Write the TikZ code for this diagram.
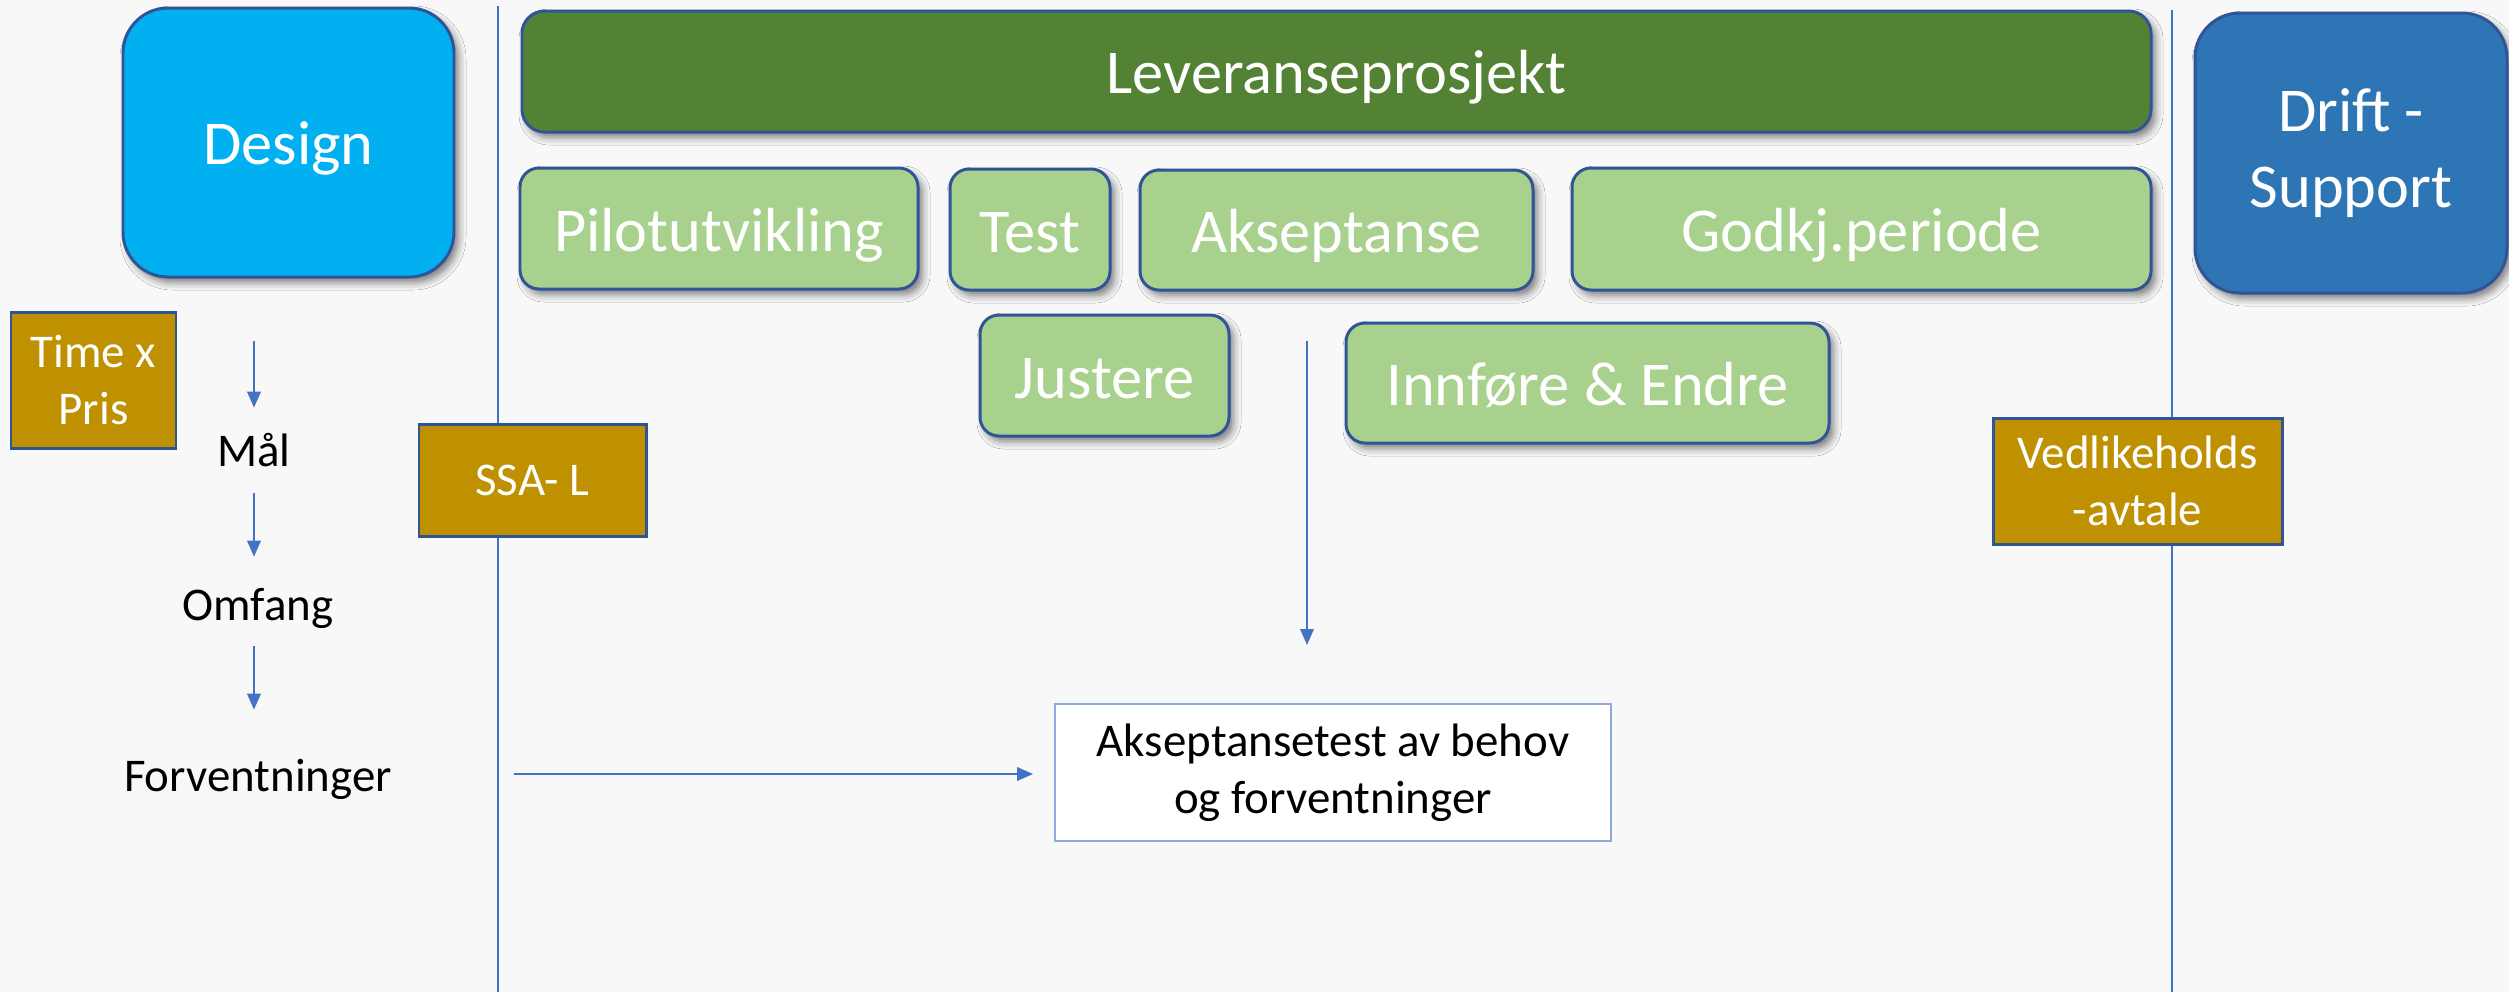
\documentclass[tikz,border=0pt]{standalone}
\usepackage{fontspec}
\setmainfont{Carlito}
\usetikzlibrary{arrows.meta,shadows.blur}
\definecolor{bg}{HTML}{F8F8F8}
\definecolor{designblue}{HTML}{00B0F0}
\definecolor{edgeblue}{HTML}{2F5597}
\definecolor{darkgreen}{HTML}{548235}
\definecolor{lightgreen}{HTML}{A9D18E}
\definecolor{driftblue}{HTML}{2E75B6}
\definecolor{gold}{HTML}{BF9000}
\definecolor{lineblue}{HTML}{4472C4}
\definecolor{paleblue}{HTML}{8FAADC}
\newcommand{\bigfnt}{\fontsize{35.5}{43.2}\selectfont}
\newcommand{\smallfnt}{\fontsize{26.7}{32.4}\selectfont}
\begin{document}
\begin{tikzpicture}[x=0.02cm,y=-0.02cm,
  sz/.style 2 args={minimum width=#1*0.02cm, minimum height=#2*0.02cm},
  shad/.style={blur shadow={shadow xshift=0.09cm, shadow yshift=-0.11cm, shadow blur radius=0.15cm, shadow opacity=50}},
  oneline/.style={text height=34.4pt, text depth=8.8pt},
  bigbox/.style={draw=edgeblue, line width=1.7pt, rounded corners=0.9cm, text=white, font=\bigfnt, align=center, inner sep=0pt, shad},
  barbox/.style={draw=edgeblue, line width=1.7pt, rounded corners=0.45cm, fill=darkgreen, text=white, font=\bigfnt, inner sep=0pt, oneline, shad},
  phasebox/.style={draw=edgeblue, line width=1.7pt, rounded corners=0.38cm, fill=lightgreen, text=white, font=\bigfnt, inner sep=0pt, oneline, shad},
  goldbox/.style={draw=edgeblue, line width=1.7pt, fill=gold, text=white, font=\smallfnt, align=center, inner sep=0pt},
  plain/.style={text=black, font=\smallfnt, inner sep=0pt, align=center},
  notebox/.style={draw=paleblue, line width=1.1pt, fill=white, text=black, font=\smallfnt, align=center, inner sep=0pt},
  sep/.style={draw=lineblue, line width=0.9pt},
  arr/.style={draw=lineblue, line width=1.1pt, -{Triangle[width=0.27cm,length=0.32cm]}}
]
\fill[bg] (0,0) rectangle (2509,992);
\useasboundingbox (0,0) rectangle (2509,992);

% separator lines
\coordinate (s1t) at (498,6);
\coordinate (s1b) at (498,992);
\coordinate (s2t) at (2172,10);
\coordinate (s2b) at (2172,992);
\draw[sep] (s1t) -- (s1b);
\draw[sep] (s2t) -- (s2b);

% main phase boxes
\node[bigbox, oneline, fill=designblue, sz={331}{269}] (design) at (288.5,142.5) {Design};
\node[barbox, sz={1629}{121}] (lev) at (1336.5,71.5) {Leveranseprosjekt};
\node[bigbox, fill=driftblue, sz={312}{280}] (drift) at (2351,153) {Drift -\\Support};

% sub-phases
\node[phasebox, sz={398}{121}] (pilot) at (719,228.5) {Pilotutvikling};
\node[phasebox, sz={160}{121}] (test) at (1030,229.5) {Test};
\node[phasebox, sz={393}{120}] (aksept) at (1336.5,230) {Akseptanse};
\node[phasebox, sz={579}{122}] (godkj) at (1861.5,229) {Godkj.periode};
\node[phasebox, sz={249}{121}] (justere) at (1104.5,375.5) {Justere};
\node[phasebox, sz={483}{120}] (innfore) at (1587.5,383) {Innføre \& Endre};

% contract boxes
\node[goldbox, sz={165}{136}] (time) at (93.5,380) {Time x\\Pris};
\node[goldbox, sz={227}{112}] (ssa) at (532.5,480) {SSA- L};
\node[goldbox, sz={289}{126}] (vedl) at (2137.5,481) {Vedlikeholds\\-avtale};

% design chain
\node[plain, sz={10}{85}] (maal) at (254,450.5) {Mål};
\node[plain, sz={10}{102}] (omfang) at (258,608) {Omfang};
\node[plain, sz={10}{138}] (forv) at (258,779) {Forventninger};
\coordinate (a0) at (254,341);
\draw[arr] (a0) -- (maal.north);
\draw[arr] (maal.south) -- (maal.south |- omfang.north);
\draw[arr] ([yshift=0.26cm]maal.south |- omfang.south) -- (maal.south |- forv.north);

% acceptance test
\node[notebox, sz={556}{137}] (aktest) at (1333,772.5) {\rule{0pt}{0.5em}Akseptansetest av behov\\og forventninger};
\coordinate (h0) at (514,774);
\draw[arr, shorten >=0.42cm] (h0) -- (h0 -| aktest.west);
\coordinate (v0) at (1307,341);
\coordinate (v1) at (1307,645);
\draw[arr] (v0) -- (v1);
\end{tikzpicture}
\end{document}
